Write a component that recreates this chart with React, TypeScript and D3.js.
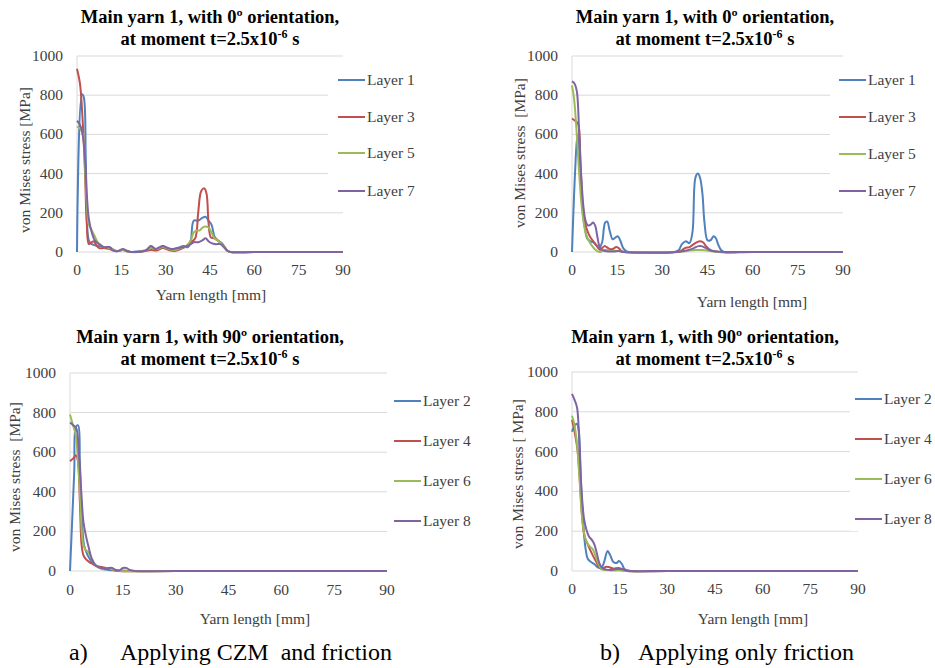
import React from "react";
import * as d3 from "d3";

type Pt = [number, number];

// x ticks [mm] and y ticks [MPa]
const xTicks = [0, 15, 30, 45, 60, 75, 90];
const yTicks = [0, 200, 400, 600, 800, 1000];

// a) CZM + friction, 0º orientation
const a0Layer1: Pt[] = [[0,0],[1.7,805],[2.3,790],[3,450],[4,60],[5,40],[6,35],[7,30],[8,30],[9,25],[10,20],[11,25],[12,15],[13,5],[14,5],[15.5,12],[17,5],[18,0],[20,2],[22,5],[23.5,10],[25,30],[26.5,15],[28,20],[29,30],[30.5,20],[32,15],[34,20],[36,30],[37.5,25],[38.5,60],[39.5,160],[41,160],[42.5,175],[43.5,180],[44.5,160],[45.5,140],[46.5,80],[47.5,60],[49,45],[50,25],[51,5],[52,0],[60,0],[90,0]];
const a0Layer3: Pt[] = [[0,935],[1,860],[1.8,700],[2.6,450],[3.3,150],[4,40],[5,50],[5.7,55],[6.5,35],[7.5,20],[9,20],[10,18],[11,15],[12,10],[13,5],[14,5],[15.5,10],[17,3],[18,0],[22,3],[25,10],[27,8],[29,20],[31,10],[33,5],[35,15],[37,30],[38.5,50],[40,70],[41,200],[42,310],[43,325],[43.8,300],[44.5,150],[45.3,75],[46.5,70],[48,55],[49.5,30],[51,5],[52,0],[60,0],[90,0]];
const a0Layer5: Pt[] = [[0,640],[1,630],[2,600],[2.7,430],[3.3,250],[4,140],[5,110],[6,80],[7,50],[8,35],[9,25],[10,25],[11,20],[12,15],[13,8],[14,5],[15.5,10],[17,3],[18,0],[22,3],[25,20],[27,15],[29,25],[31,15],[33,10],[35,20],[37,30],[38.5,60],[39.5,100],[40.5,110],[41.5,110],[42.5,125],[43.5,130],[44.5,125],[45.5,100],[46.5,70],[48,55],[49.5,30],[51,5],[52,0],[60,0],[90,0]];
const a0Layer7: Pt[] = [[0,670],[1,650],[2,590],[2.7,480],[3.3,300],[4,170],[5,100],[6,60],[7,45],[8,35],[9,25],[10,25],[11,25],[12,10],[13,5],[14,5],[15.5,15],[17,5],[18.5,0],[22,3],[23.5,10],[25,30],[26.5,15],[28,25],[29,30],[30.5,22],[32,15],[34,20],[36,25],[38,35],[39.5,50],[41,50],[42.5,60],[43.5,70],[44.5,55],[45.5,45],[47,40],[48.5,40],[50,20],[51,5],[52,0],[60,0],[90,0]];

// b) friction only, 0º orientation
const b0Layer1: Pt[] = [[0,0],[1,400],[1.8,600],[2.5,500],[3.3,250],[4.3,120],[5,70],[6,55],[7,50],[8,35],[9,20],[10,50],[11,150],[11.7,155],[12.5,110],[13.5,65],[14.5,75],[15.2,80],[16,60],[17,20],[18,5],[19,0],[34,0],[35.5,10],[36.5,40],[37.8,55],[39,45],[40,100],[41,380],[41.8,400],[42.5,380],[43.3,300],[44,150],[45,60],[46,60],[47,80],[47.8,70],[48.5,40],[49.5,10],[50.5,0],[60,0],[90,0]];
const b0Layer3: Pt[] = [[0,680],[1,670],[2,655],[2.8,450],[3.5,250],[4.3,150],[5.3,100],[6.3,70],[7.3,50],[8.3,30],[9.3,10],[10,20],[10.8,30],[11.5,25],[12.5,15],[13.5,15],[14.7,25],[15.5,20],[16.5,5],[18,0],[34,0],[36,5],[37.5,20],[39,25],[40,35],[41.5,50],[42.5,55],[43.5,50],[44.5,30],[46,10],[47.5,3],[49,0],[60,0],[90,0]];
const b0Layer5: Pt[] = [[0,850],[0.7,780],[1.5,620],[2.3,420],[3,270],[3.7,170],[4.5,100],[5.5,60],[6.5,35],[7.5,15],[8.5,3],[9.5,0],[10.5,10],[11.5,10],[12.5,5],[14,5],[15.5,5],[17,0],[35,0],[37,3],[39,8],[41,10],[43,10],[45,8],[47,3],[48.5,0],[60,0],[90,0]];
const b0Layer7: Pt[] = [[0,870],[0.8,860],[1.6,820],[2.4,600],[3.1,380],[3.8,230],[4.5,160],[5.3,135],[6.2,140],[7,150],[7.7,135],[8.4,80],[9.2,25],[10,10],[11,5],[12,3],[14,3],[15.5,5],[17,0],[35,0],[37,5],[39,12],[40.5,20],[42,30],[43,30],[44.5,20],[46,8],[48,3],[50,0],[60,0],[90,0]];

// a) CZM + friction, 90º orientation
const a90Layer2: Pt[] = [[0,0],[1.2,500],[1.7,730],[2.3,735],[2.8,550],[3.3,300],[4,130],[5,80],[6,50],[7,30],[8,20],[9,12],[10,8],[11,5],[13,3],[15,2],[17,0],[30,0],[90,0]];
const a90Layer4: Pt[] = [[0,555],[1,570],[1.7,585],[2.2,560],[2.8,350],[3.3,130],[3.8,80],[4.5,60],[5.5,45],[6.5,35],[7.5,25],[8.5,22],[9.5,18],[10.5,15],[11.5,10],[12.5,3],[13.5,0],[30,0],[90,0]];
const a90Layer6: Pt[] = [[0,790],[0.8,740],[1.6,690],[2.3,550],[3,330],[3.6,150],[4.3,110],[5.2,95],[6,70],[7,35],[8,20],[9,10],[10,10],[11,15],[12,8],[13,3],[14,0],[30,0],[90,0]];
const a90Layer8: Pt[] = [[0,750],[1,735],[1.8,720],[2.5,600],[3.2,400],[3.8,250],[4.5,180],[5.3,120],[6.2,60],[7,35],[8,20],[9,15],[10,10],[11,15],[12,15],[13,5],[14,3],[15,15],[16,15],[17,5],[18.5,0],[30,0],[90,0]];

// b) friction only, 90º orientation
const b90Layer2: Pt[] = [[0,700],[0.8,730],[1.5,740],[2.1,710],[2.8,450],[3.5,250],[4.2,120],[5,60],[6,45],[7,35],[8,20],[9.2,15],[10,40],[11.2,100],[12,80],[13,45],[14,40],[14.8,50],[15.7,35],[16.5,10],[17.5,3],[18.5,0],[30,0],[90,0]];
const b90Layer4: Pt[] = [[0,760],[0.8,700],[1.8,600],[2.6,420],[3.3,250],[4,170],[4.8,140],[5.6,110],[6.5,80],[7.5,50],[8.5,20],[9.5,10],[10.5,20],[11.5,20],[13,12],[14.5,15],[15.5,12],[16.5,5],[17.5,0],[30,0],[90,0]];
const b90Layer6: Pt[] = [[0,780],[0.7,740],[1.5,650],[2.3,480],[3,300],[3.7,200],[4.5,150],[5.5,125],[6.5,110],[7.3,80],[8.2,40],[9,15],[10,5],[11,5],[13,3],[15,3],[17,0],[30,0],[90,0]];
const b90Layer8: Pt[] = [[0,890],[0.8,860],[1.6,820],[2.4,600],[3.1,380],[3.8,260],[4.5,210],[5.3,175],[6.3,155],[7,135],[7.8,90],[8.6,40],[9.5,15],[10.5,8],[12,5],[14,10],[15.5,10],[17,3],[18.5,0],[30,0],[90,0]];

const colors = ["#4F81BD", "#C0504D", "#9BBB59", "#8064A2"];
const serif = "Liberation Serif";

type PanelProps = {
  angle: string;
  series: Pt[][];
  names: string[];
  yTitle: string;
  box: { left: number; right: number; top: number; bottom: number };
  titleX: number; titleY: number;
  legX: number; legY: number[]; legBox: [number, number];
  yTitleX: number; yTitleY: number;
  xTitleX: number; xTitleY: number;
  tickY: number;
};

function Panel(p: PanelProps) {
  const { box } = p;
  const x = d3.scaleLinear().domain([0, 90]).range([box.left, box.right]);
  const y = d3.scaleLinear().domain([0, 1000]).range([box.bottom, box.top]);
  const line = d3
    .line<Pt>()
    .x(d => x(d[0]))
    .y(d => y(Math.max(0, d[1])))
    .curve(d3.curveCatmullRom.alpha(0.5));
  const txt = { fontFamily: serif };
  return (
    <g>
      <text x={p.titleX} y={p.titleY} textAnchor="middle" style={txt} fontWeight="bold" fontSize={18.5} fill="#000">
        {`Main yarn 1, with ${p.angle}º orientation,`}
      </text>
      <text x={p.titleX} y={p.titleY + 22} textAnchor="middle" style={txt} fontWeight="bold" fontSize={18.5} fill="#000">
        at moment t=2.5x10<tspan dy={-7} fontSize={12}>-6</tspan><tspan dy={7}> s</tspan>
      </text>
      {yTicks.map(t => (
        <line key={"g" + t} x1={box.left} x2={box.right} y1={y(t)} y2={y(t)} stroke="#D9D9D9" strokeWidth={1} />
      ))}
      <line x1={box.left} x2={box.left} y1={box.top} y2={box.bottom} stroke="#D9D9D9" strokeWidth={1} />
      <rect x={p.legBox[0]} y={box.top + 6} width={p.legBox[1] - p.legBox[0]} height={box.bottom - box.top - 46} fill="#fff" />
      {yTicks.map(t => (
        <text key={"y" + t} x={box.left - 14} y={y(t) + 5} textAnchor="end" style={txt} fontSize={15.5} fill="#404040">
          {t}
        </text>
      ))}
      {xTicks.map(t => (
        <text key={"x" + t} x={x(t)} y={p.tickY + 5} textAnchor="middle" style={txt} fontSize={15.5} fill="#404040">
          {t}
        </text>
      ))}
      <text
        transform={`translate(${p.yTitleX},${p.yTitleY}) rotate(-90)`}
        textAnchor="middle"
        style={{ ...txt, whiteSpace: "pre" }}
        fontSize={15.5}
        fill="#404040"
      >
        {p.yTitle}
      </text>
      <text x={p.xTitleX} y={p.xTitleY + 5} textAnchor="middle" style={txt} fontSize={15.5} fill="#404040">
        Yarn length [mm]
      </text>
      {p.series.map((s, i) => (
        <path key={"s" + i} d={line(s) || ""} fill="none" stroke={colors[i]} strokeWidth={2} />
      ))}
      {p.names.map((n, i) => (
        <g key={"l" + i}>
          <line x1={p.legX} x2={p.legX + 27} y1={p.legY[i]} y2={p.legY[i]} stroke={colors[i]} strokeWidth={2} />
          <text x={p.legX + 29} y={p.legY[i] + 5} style={txt} fontSize={15.5} fill="#404040">
            {n}
          </text>
        </g>
      ))}
    </g>
  );
}

export default function App() {
  const cap = { fontFamily: serif, whiteSpace: "pre" as const };
  return (
    <svg width={935} height={668} style={{ position: "absolute", left: 0, top: 0, background: "#fff" }}>
      <Panel
        angle="0"
        series={[a0Layer1, a0Layer3, a0Layer5, a0Layer7]}
        names={["Layer 1", "Layer 3", "Layer 5", "Layer 7"]}
        yTitle="von Mises stress [MPa]"
        box={{ left: 77, right: 343, top: 56, bottom: 252 }}
        titleX={210} titleY={23}
        legX={338} legY={[80, 117, 153, 191]} legBox={[328, 420]}
        yTitleX={30} yTitleY={160}
        xTitleX={211} xTitleY={295}
        tickY={270}
      />
      <Panel
        angle="0"
        series={[b0Layer1, b0Layer3, b0Layer5, b0Layer7]}
        names={["Layer 1", "Layer 3", "Layer 5", "Layer 7"]}
        yTitle="von Mises stress  [MPa]"
        box={{ left: 572, right: 843, top: 56, bottom: 252 }}
        titleX={705} titleY={23}
        legX={839} legY={[80, 117, 154, 191]} legBox={[830, 930]}
        yTitleX={525} yTitleY={153}
        xTitleX={752} xTitleY={302}
        tickY={270}
      />
      <Panel
        angle="90"
        series={[a90Layer2, a90Layer4, a90Layer6, a90Layer8]}
        names={["Layer 2", "Layer 4", "Layer 6", "Layer 8"]}
        yTitle="von Mises stress  [MPa]"
        box={{ left: 70, right: 387, top: 373, bottom: 571 }}
        titleX={210} titleY={343}
        legX={394} legY={[401, 441, 481, 521]} legBox={[388, 470]}
        yTitleX={20} yTitleY={477}
        xTitleX={255} xTitleY={619}
        tickY={590}
      />
      <Panel
        angle="90"
        series={[b90Layer2, b90Layer4, b90Layer6, b90Layer8]}
        names={["Layer 2", "Layer 4", "Layer 6", "Layer 8"]}
        yTitle="von Mises stress [ MPa]"
        box={{ left: 572, right: 858, top: 372, bottom: 571 }}
        titleX={705} titleY={343}
        legX={855} legY={[399, 439, 479, 519]} legBox={[850, 935]}
        yTitleX={523} yTitleY={474}
        xTitleX={753} xTitleY={619}
        tickY={589}
      />
      <text x={69} y={660} style={cap} fontSize={24} fill="#000">a)</text>
      <text x={120} y={660} style={cap} fontSize={24} fill="#000">Applying CZM  and friction</text>
      <text x={600} y={660} style={cap} fontSize={24} fill="#000">b)</text>
      <text x={638} y={660} style={cap} fontSize={24} fill="#000">Applying only friction</text>
    </svg>
  );
}
